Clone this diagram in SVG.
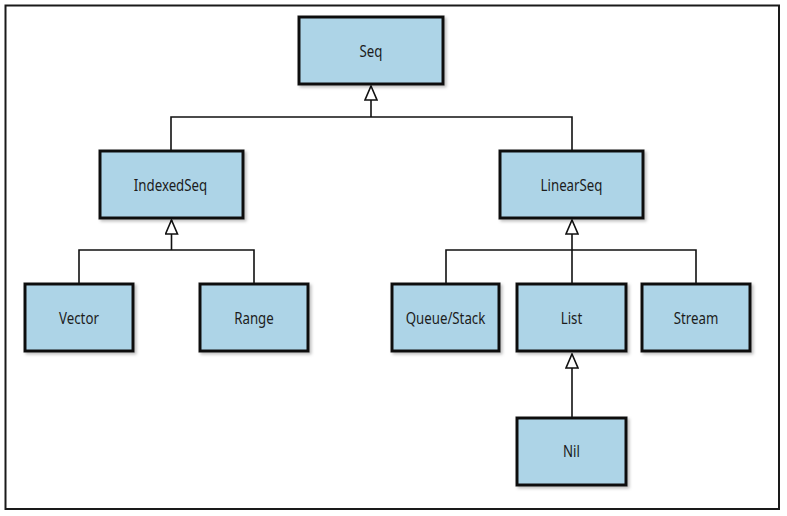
<svg xmlns="http://www.w3.org/2000/svg" width="787" height="516" viewBox="0 0 787 516">
<style>
.box{fill:#add4e7;stroke:#111;stroke-width:3}
.lbl{font-family:"Noto Sans","DejaVu Sans",sans-serif;font-size:17px;fill:#1c1c1c;text-anchor:middle}
.edge{fill:none;stroke:#111;stroke-width:1.6}
.frame{fill:none;stroke:#1a1a1a;stroke-width:2}
</style>
<defs>
<filter id="sh" x="-10%" y="-10%" width="130%" height="130%">
<feDropShadow dx="2" dy="2" stdDeviation="1.5" flood-color="#000" flood-opacity="0.25"/>
</filter>
<marker id="tri" viewBox="0 0 16 14" refX="1" refY="7" markerWidth="16" markerHeight="14" markerUnits="userSpaceOnUse" orient="auto">
<path d="M1,7 L15,1 L15,13 Z" fill="#fff" stroke="#111" stroke-width="1.6" stroke-linejoin="miter"/>
</marker>
</defs>
<rect class="frame" x="5.5" y="5.5" width="773.5" height="503.5"/>
<g id="connectors">
<path class="edge" marker-start="url(#tri)" d="M371,86 V117"/>
<path class="edge" d="M171,150 V117 H572 V150"/>
<path class="edge" marker-start="url(#tri)" d="M171.5,220 V250"/>
<path class="edge" d="M79,283 V250 H254 V283"/>
<path class="edge" marker-start="url(#tri)" d="M572,220 V283"/>
<path class="edge" d="M446,283 V250 H696 V283"/>
<path class="edge" marker-start="url(#tri)" d="M572,354 V418"/>
</g>
<g id="Seq"><rect class="box" filter="url(#sh)" x="299" y="17" width="144" height="67"/><text class="lbl" transform="translate(371,57) scale(0.78,1)">Seq</text></g>
<g id="IndexedSeq"><rect class="box" filter="url(#sh)" x="100" y="151" width="143" height="67"/><text class="lbl" transform="translate(170.5,191) scale(0.78,1)">IndexedSeq</text></g>
<g id="LinearSeq"><rect class="box" filter="url(#sh)" x="500" y="151" width="143" height="67"/><text class="lbl" transform="translate(571.5,191) scale(0.78,1)">LinearSeq</text></g>
<g id="Vector"><rect class="box" filter="url(#sh)" x="25" y="284" width="108" height="67"/><text class="lbl" transform="translate(79,324) scale(0.78,1)">Vector</text></g>
<g id="Range"><rect class="box" filter="url(#sh)" x="200" y="284" width="108" height="67"/><text class="lbl" transform="translate(254,324) scale(0.78,1)">Range</text></g>
<g id="QueueStack"><rect class="box" filter="url(#sh)" x="392" y="284" width="107" height="67"/><text class="lbl" transform="translate(445.5,324) scale(0.78,1)">Queue/Stack</text></g>
<g id="List"><rect class="box" filter="url(#sh)" x="517" y="284" width="109" height="67"/><text class="lbl" transform="translate(571.5,324) scale(0.78,1)">List</text></g>
<g id="Stream"><rect class="box" filter="url(#sh)" x="642" y="284" width="108" height="67"/><text class="lbl" transform="translate(696,324) scale(0.78,1)">Stream</text></g>
<g id="Nil"><rect class="box" filter="url(#sh)" x="517" y="418" width="109" height="67"/><text class="lbl" transform="translate(571.5,457) scale(0.78,1)">Nil</text></g>
</svg>
